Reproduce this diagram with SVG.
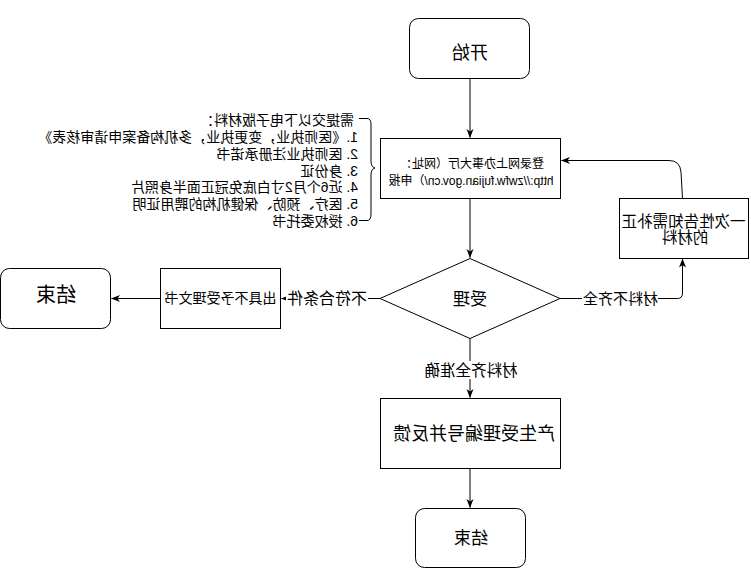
<svg xmlns="http://www.w3.org/2000/svg" width="751" height="569" viewBox="0 0 751 569">
<style>
.box{fill:#fff;stroke:#000;stroke-width:1}
.ln{fill:none;stroke:#000;stroke-width:1}
text{font-family:"Liberation Sans","Noto Sans CJK SC",sans-serif;fill:#000}
.c{text-anchor:middle}
.lb{fill:#fff;stroke:none}
</style>
<defs>
<marker id="ah" markerUnits="userSpaceOnUse" markerWidth="9" markerHeight="8" viewBox="0 0 9 8" refX="8.5" refY="4" orient="auto">
<path d="M0,0.5 L9,4 L0,7.5 L2.5,4 Z" fill="#000"/>
</marker>
</defs>
<rect width="751" height="569" fill="#fff"/>
<g transform="matrix(-1 0 0 1 751 0)">
<g id="connectors">
<path class="ln" d="M281,78.5 V137.5" marker-end="url(#ah)"/>
<path class="ln" d="M281,198.5 V257.5" marker-end="url(#ah)"/>
<path class="ln" d="M191,298.5 H73.5 Q68.5,298.5 68.5,293 V259" marker-end="url(#ah)"/>
<path class="ln" d="M68.5,198.5 L70,172 Q71,160.5 82,160.5 H189.5" marker-end="url(#ah)"/>
<path class="ln" d="M371,298.5 H469.5" marker-end="url(#ah)"/>
<path class="ln" d="M590.5,298.5 H639.5" marker-end="url(#ah)"/>
<path class="ln" d="M281,338.5 V397.5" marker-end="url(#ah)"/>
<path class="ln" d="M281,468.5 V507.5" marker-end="url(#ah)"/>
<rect class="lb" x="93" y="290" width="76" height="17"/>
<text x="130.5" y="304" class="c" font-size="15">材料不齐全</text>
<rect class="lb" x="383" y="290" width="82" height="17"/>
<text x="424" y="304" class="c" font-size="16">不符合条件</text>
<rect class="lb" x="234" y="361" width="93" height="18"/>
<text x="280" y="376" class="c" font-size="15.5">材料齐全准确</text>
</g>
<g id="start">
<rect class="box" x="221.5" y="18.5" width="120" height="60" rx="9"/>
<text x="281" y="59" class="c" font-size="18">开始</text>
</g>
<g id="apply">
<rect class="box" x="190.5" y="138.5" width="180" height="60"/>
<text x="279" y="168" class="c" font-size="12">登录网上办事大厅（网址：</text>
<text x="280" y="185" class="c" font-size="12">http://zwfw.fujian.gov.cn/）申报</text>
</g>
<g id="note">
<path class="ln" d="M392,118.5 H384 Q380,118.5 380,124 V161 Q380,167 376,168 Q380,169 380,175 V214 Q380,220.5 384,220.5 H392"/>
<text x="397" y="125" font-size="14">需提交以下电子版材料：</text>
<text x="393" y="142" font-size="14">1.《医师执业，变更执业，多机构备案申请审核表》</text>
<text x="393" y="159" font-size="14">2. 医师执业注册承诺书</text>
<text x="393" y="175.5" font-size="14">3. 身份证</text>
<text x="393" y="192" font-size="14">4. 近6个月2寸白底免冠正面半身照片</text>
<text x="393" y="209" font-size="14">5. 医疗、预防、保健机构的聘用证明</text>
<text x="393" y="226" font-size="14">6. 授权委托书</text>
</g>
<g id="decision">
<polygon class="box" points="281,258.5 371,298.5 281,338.5 191,298.5"/>
<text x="281" y="304.5" class="c" font-size="17">受理</text>
</g>
<g id="supplement">
<rect class="box" x="2.5" y="198.5" width="129" height="60"/>
<text x="67.5" y="227" class="c" font-size="15.5">一次性告知需补正</text>
<text x="66" y="243" class="c" font-size="15.5">的材料</text>
</g>
<g id="reject">
<rect class="box" x="470.5" y="268.5" width="120" height="60"/>
<text x="530.5" y="303" class="c" font-size="14">出具不予受理文书</text>
</g>
<g id="end1">
<rect class="box" x="640.5" y="268.5" width="110" height="60" rx="9"/>
<text x="695" y="302" class="c" font-size="20">结束</text>
</g>
<g id="accept">
<rect class="box" x="190.5" y="398.5" width="180" height="70"/>
<text x="277" y="439.5" class="c" font-size="18">产生受理编号并反馈</text>
</g>
<g id="end2">
<rect class="box" x="225.5" y="508.5" width="110" height="59" rx="9"/>
<text x="280" y="544" class="c" font-size="17">结束</text>
</g>
</g>
</svg>
